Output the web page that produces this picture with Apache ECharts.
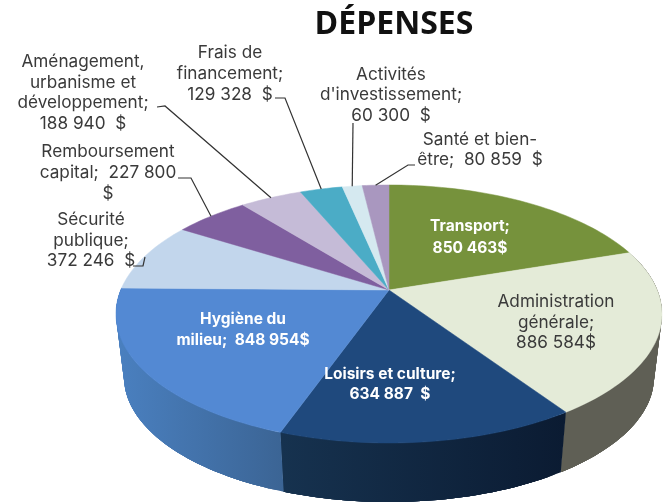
<!DOCTYPE html>
<html><head><meta charset="utf-8">
<style>html,body{margin:0;padding:0;background:#fff}#c{width:666px;height:503px}</style>
<script src="https://cdn.jsdelivr.net/npm/echarts@6/dist/echarts.min.js"></script>
</head><body><div id="c"></div>
<script>
var categories = ['Transport','Administration générale','Loisirs et culture','Hygiène du milieu','Sécurité publique','Remboursement capital','Aménagement, urbanisme et développement','Frais de financement',"Activités d'investissement",'Santé et bien-être'];
var values = [850463,886584,634887,848954,372246,227800,188940,129328,60300,80859];
var labelLines = [
 ['Transport;','850 463$'],
 ['Administration','générale;','886 584$'],
 ['Loisirs et culture;','634 887  $'],
 ['Hygiène du','milieu;  848 954$'],
 ['Sécurité','publique;','372 246  $'],
 ['Remboursement','capital;  227 800','$'],
 ['Aménagement,','urbanisme et','développement;','188 940  $'],
 ['Frais de','financement;','129 328  $'],
 ['Activités',"d'investissement;",'60 300  $'],
 ['Santé et bien-','être;  80 859  $']
];
var topColors = ['#76923c','#e4ebd8','#1f497d','#5389d3','#c2d6ec','#7f5f9f','#c5bbd7','#4bacc6','#d5e9f0','#a997bf'];
var wallStops = {1:['#5f5f55','#5f5f55',565,662],2:['#16324f','#0b1b32',282,565],3:['#4a80c0','#3b6494',116,285]};
var labelPos = [[470,[226,248]],[556,[302,323,343]],[390,[374,394]],[243,[319,340]],[91,[220,241,261]],[108,[152,173,194]],[83,[62,83,103,124]],[230,[53,74,95]],[391,[75,95,116]],[480,[140,160]]];
var leaders = {4:[[133,266],[143,266],[145,257]],5:[[178,178],[191,178]],6:[[157,107],[165,106]],7:[[275,98],[285,98]],8:[[353,123]],9:[[415,165],[408,165]]};

var topE = {cx:389,cy:314,rx:273,ry:129};
var botE = {cx:389,cy:377,rx:265,ry:125};
var A = -0.186, K = Math.sqrt(1-A*A);
var total = values.reduce(function(a,b){return a+b;},0);
var cum = [0]; values.forEach(function(v,i){cum.push(cum[i]+v/total);});
function rim(E,f){
  var t=f*2*Math.PI, u=Math.sin(t), v=-Math.cos(t), d=1+A*v;
  return [E.cx+E.rx*u*K/d, E.cy+E.ry*(v+A)/d];
}
function apex(E){return [E.cx,E.cy+E.ry*A];}
function arc(E,a,b){var n=Math.max(6,Math.ceil((b-a)*240)),p=[];for(var i=0;i<=n;i++)p.push(rim(E,a+(b-a)*i/n));return p;}
var FONT='Inter, sans-serif';

var chart = echarts.init(document.getElementById('c'),null,{renderer:'canvas'});
chart.setOption({
 animation:false,
 backgroundColor:'#fff',
 title:{text:'DÉPENSES',left:389,top:4,textAlign:'center',textStyle:{fontFamily:'Open Sans',fontWeight:'bold',fontSize:32,color:'#111'}},
 series:[
 {type:'custom',coordinateSystem:'none',silent:true,z:1,data:values,
  renderItem:function(p){
    var i=p.dataIndex,s=wallStops[i];
    if(!s) return {type:'group',children:[]};
    var t=arc(topE,cum[i],cum[i+1]),b=arc(botE,cum[i],cum[i+1]),ch=[];
    var g=new echarts.graphic.LinearGradient(s[2],0,s[3],0,[{offset:0,color:s[0]},{offset:1,color:s[1]}],true);
    for(var k=0;k<t.length-1;k++){
      var e=Math.min(k+5,t.length-1);
      ch.push({type:'polygon',shape:{points:t.slice(k,e+1).concat(b.slice(k,e+1).reverse())},style:{fill:g}});
    }
    return {type:'group',children:ch};
  }},
 {type:'custom',coordinateSystem:'none',silent:true,z:2,data:values,
  renderItem:function(p){
    var i=p.dataIndex;
    var pts=[apex(topE)].concat(arc(topE,cum[i],cum[i+1]));
    return {type:'polygon',shape:{points:pts},style:{fill:topColors[i],stroke:topColors[i],lineWidth:0.5}};
  }},
 {type:'custom',coordinateSystem:'none',silent:true,z:3,data:values,
  renderItem:function(p){
    var i=p.dataIndex,ch=[],lp=labelPos[i],inside=i===0||i===2||i===3;
    if(leaders[i]){
      var end=i===4?[]:[rim(topE,(cum[i]+cum[i+1])/2)];
      ch.push({type:'polyline',shape:{points:leaders[i].concat(end)},style:{fill:null,stroke:'#333',lineWidth:1.2}});
    }
    labelLines[i].forEach(function(txt,k){
      ch.push({type:'text',style:{text:txt,x:lp[0],y:lp[1][k],align:'center',verticalAlign:'middle',
        fontFamily:FONT,fontSize:inside?15.5:17.2,fontWeight:inside?'bold':'normal',fill:inside?'#fff':'#3a3a3a'}});
    });
    return {type:'group',children:ch};
  }}
 ]
});
</script></body></html>
